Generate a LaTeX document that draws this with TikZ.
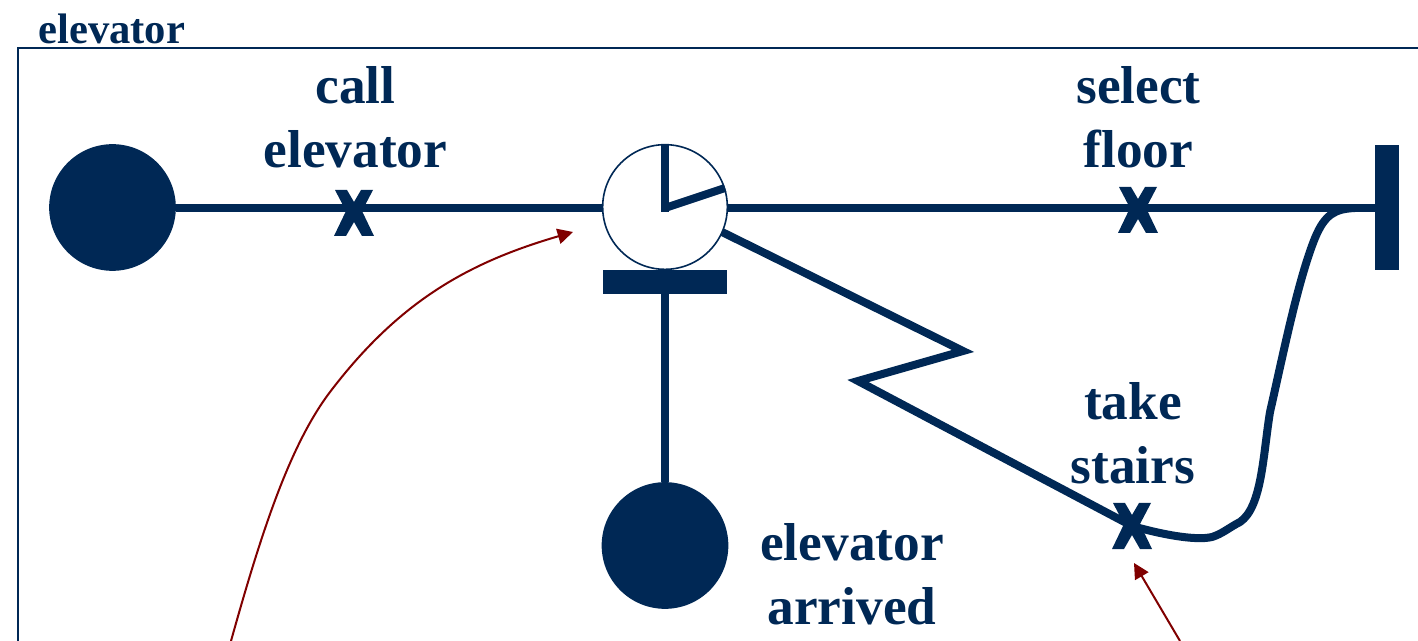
\documentclass[tikz,border=0pt]{standalone}
\usepackage{fontspec}
\setmainfont{Liberation Serif}
\usetikzlibrary{arrows.meta}
\definecolor{navy}{HTML}{002855}
\definecolor{darkred}{HTML}{800000}
\tikzset{
  x=0.75pt,y=-0.75pt,
  bigdot/.style={circle,fill=navy,draw=none,minimum size=95pt,inner sep=0pt},
  timer/.style={circle,fill=white,draw=navy,line width=1.2pt,minimum size=93.5pt,inner sep=0pt},
  barh/.style={rectangle,fill=navy,draw=none,minimum width=93.5pt,minimum height=18pt,inner sep=0pt},
  barv/.style={rectangle,fill=navy,draw=none,minimum width=18pt,minimum height=94pt,inner sep=0pt},
  label/.style={text=navy,font=\fontsize{40}{48}\selectfont\bfseries,align=center,inner sep=0pt},
  title/.style={text=navy,font=\fontsize{32}{38}\selectfont\bfseries,inner sep=0pt,anchor=base west},
  flow/.style={draw=navy,line width=6pt},
  hand/.style={draw=navy,line width=6pt},
  thin arrow/.style={draw=darkred,line width=1.5pt,-{Triangle[length=11.5pt,width=11.5pt]}},
  xmark/.pic={\fill[navy] (-19,-23)--(-7,-23)--(0,-11)--(7,-23)--(19,-23)--(8,-2)--(20,23)--(8,23)--(0,9)--(-8,23)--(-20,23)--(-8,-2)--cycle;}
}
\begin{document}
\begin{tikzpicture}
\useasboundingbox (0,0) rectangle (1418,641);
\draw[navy,line width=1.6pt] (18,641)--(18,48)--(1418,48);
\node[title] (ttl) at (38,44) {elevator};

\node[bigdot] (start) at (112.5,207.5) {};
\node[timer] (clock) at (665,207) {};
\node[barh] (sync) at (665,282) {};
\node[bigdot] (stop) at (665,545.5) {};
\node[barv] (finish) at (1387,207.5) {};

\coordinate (x1) at (354,213);
\coordinate (x2) at (1138,210);
\coordinate (x3) at (1132,526);
\coordinate (z1) at (963,351);
\coordinate (z2) at (858,381);
\coordinate (join) at (1355,208);

\draw[flow] (start.east |- 0,208) -- (clock.west |- 0,208);
\draw[flow] (clock.east |- 0,208) -- (finish.west |- 0,208);
\draw[flow] (sync.south) -- (stop.north);
\draw[flow,line join=miter] (722,232) -- (z1) -- (z2) -- (x3);
\draw[flow] (x3) .. controls (1160,534) and (1195,541) .. (1212,537)
  .. controls (1222,534) and (1230,527) .. (1240,522)
  .. controls (1262,507) and (1263,455) .. (1270,412)
  .. controls (1283,355) and (1298,280) .. (1315,238)
  .. controls (1325,214) and (1335,209) .. (join);

\draw[hand] (665,145) -- (665,212);
\draw[hand] (665,208) -- (725,188);

\pic at (x1) {xmark};
\pic at (x2) {xmark};
\pic at (x3) {xmark};

\node[label] (l1) at (355.5,117) {call\\elevator};
\node[label] (l2) at (1138.5,117) {select\\floor};
\node[label] (l3) at (1133,433) {take\\stairs};
\node[label] (l4) at (852,574) {elevator\\arrived};

\coordinate (a1s) at (231,641);
\coordinate (a2s) at (1180,641);
\coordinate (a2e) at (1134,563);
\draw[thin arrow] (a1s) .. controls (262,530) and (290,445) .. (330,392)
  .. controls (400,300) and (470,262) .. (573,232);
\draw[thin arrow] (a2s) -- (a2e);
\end{tikzpicture}
\end{document}
